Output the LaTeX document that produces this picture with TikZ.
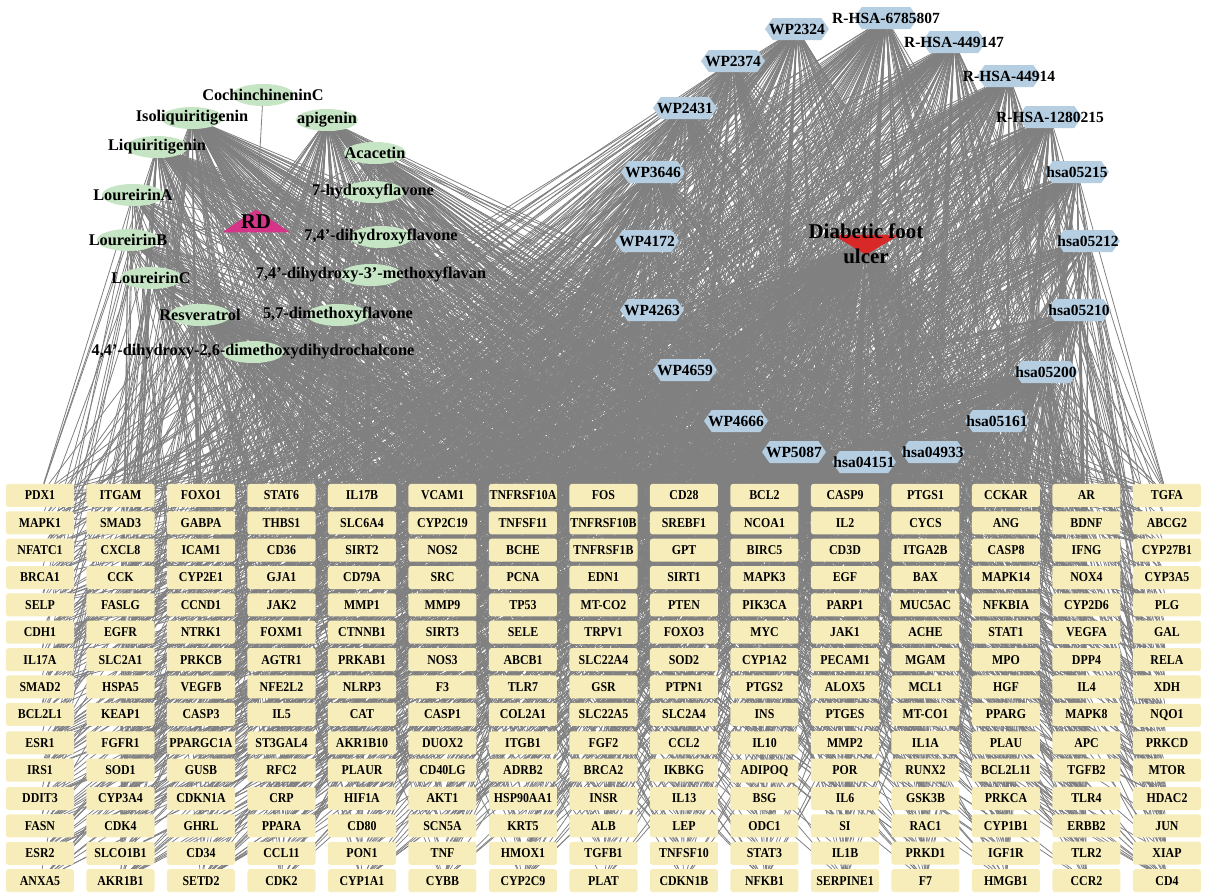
\documentclass[tikz,border=0pt]{standalone}
\usepackage{fontspec}
\setmainfont{Liberation Serif}
\newfontfamily\genefont{Liberation Serif}[FakeStretch=0.88]
\usetikzlibrary{matrix,shapes.geometric,shapes.symbols}

\definecolor{genefill}{RGB}{247,237,186}
\definecolor{compfill}{RGB}{198,229,196}
\definecolor{pathfill}{RGB}{181,206,226}
\definecolor{rdpink}{RGB}{214,52,136}
\definecolor{dfured}{RGB}{216,40,40}
\definecolor{linkgray}{RGB}{128,128,128}

\pgfdeclarelayer{background}
\pgfsetlayers{background,main}

\tikzset{
	link/.style={draw=linkgray, line width=0.8pt},
	gene/.style={rectangle, rounded corners=2.5pt, fill=genefill, minimum height=23pt, text width=68pt, align=center, inner xsep=0pt, inner ysep=0pt, font=\genefont\fontsize{13.5}{15}\selectfont\bfseries},
	comptext/.style={font=\fontsize{16.3}{18}\selectfont\bfseries},
	compound/.style={ellipse, fill=compfill, minimum width=62pt, minimum height=22pt, inner sep=0pt, label={[comptext]center:#1}},
	pathtext/.style={font=\fontsize{15.5}{17}\selectfont\bfseries},
	pathway/.style={signal, signal to=east and west, signal pointer angle=110, fill=pathfill, minimum width=64pt, minimum height=22pt, inner sep=0pt, label={[pathtext]center:#1}},
	bigtext/.style={font=\fontsize{21}{25}\selectfont\bfseries, align=center},
	rdmark/.style={isosceles triangle, isosceles triangle stretches, shape border rotate=90, fill=rdpink, minimum width=68pt, minimum height=23pt, inner sep=0pt, label={[bigtext]center:RD}},
	dfumark/.style={isosceles triangle, isosceles triangle stretches, shape border rotate=270, fill=dfured, minimum width=67pt, minimum height=20pt, inner sep=0pt, label={[bigtext]center:{Diabetic foot\\ulcer}}}
}

\begin{document}
\begin{tikzpicture}[x=1pt,y=-1pt]
	\useasboundingbox (0,0) rectangle (1205,892);

	\matrix[
		matrix of nodes,
		inner sep=0pt,
		row sep=4.3pt,
		column sep=12.5pt,
		nodes={gene}
	] (m) at (603.5,688)
	{
		PDX1 & ITGAM & FOXO1 & STAT6 & IL17B & VCAM1 & TNFRSF10A & FOS & CD28 & BCL2 & CASP9 & PTGS1 & CCKAR & AR & TGFA \\
		MAPK1 & SMAD3 & GABPA & THBS1 & SLC6A4 & CYP2C19 & TNFSF11 & TNFRSF10B & SREBF1 & NCOA1 & IL2 & CYCS & ANG & BDNF & ABCG2 \\
		NFATC1 & CXCL8 & ICAM1 & CD36 & SIRT2 & NOS2 & BCHE & TNFRSF1B & GPT & BIRC5 & CD3D & ITGA2B & CASP8 & IFNG & CYP27B1 \\
		BRCA1 & CCK & CYP2E1 & GJA1 & CD79A & SRC & PCNA & EDN1 & SIRT1 & MAPK3 & EGF & BAX & MAPK14 & NOX4 & CYP3A5 \\
		SELP & FASLG & CCND1 & JAK2 & MMP1 & MMP9 & TP53 & MT-CO2 & PTEN & PIK3CA & PARP1 & MUC5AC & NFKBIA & CYP2D6 & PLG \\
		CDH1 & EGFR & NTRK1 & FOXM1 & CTNNB1 & SIRT3 & SELE & TRPV1 & FOXO3 & MYC & JAK1 & ACHE & STAT1 & VEGFA & GAL \\
		IL17A & SLC2A1 & PRKCB & AGTR1 & PRKAB1 & NOS3 & ABCB1 & SLC22A4 & SOD2 & CYP1A2 & PECAM1 & MGAM & MPO & DPP4 & RELA \\
		SMAD2 & HSPA5 & VEGFB & NFE2L2 & NLRP3 & F3 & TLR7 & GSR & PTPN1 & PTGS2 & ALOX5 & MCL1 & HGF & IL4 & XDH \\
		BCL2L1 & KEAP1 & CASP3 & IL5 & CAT & CASP1 & COL2A1 & SLC22A5 & SLC2A4 & INS & PTGES & MT-CO1 & PPARG & MAPK8 & NQO1 \\
		ESR1 & FGFR1 & PPARGC1A & ST3GAL4 & AKR1B10 & DUOX2 & ITGB1 & FGF2 & CCL2 & IL10 & MMP2 & IL1A & PLAU & APC & PRKCD \\
		IRS1 & SOD1 & GUSB & RFC2 & PLAUR & CD40LG & ADRB2 & BRCA2 & IKBKG & ADIPOQ & POR & RUNX2 & BCL2L11 & TGFB2 & MTOR \\
		DDIT3 & CYP3A4 & CDKN1A & CRP & HIF1A & AKT1 & HSP90AA1 & INSR & IL13 & BSG & IL6 & GSK3B & PRKCA & TLR4 & HDAC2 \\
		FASN & CDK4 & GHRL & PPARA & CD80 & SCN5A & KRT5 & ALB & LEP & ODC1 & SI & RAC1 & CYP1B1 & ERBB2 & JUN \\
		ESR2 & SLCO1B1 & CD34 & CCL11 & PON1 & TNF & HMOX1 & TGFB1 & TNFSF10 & STAT3 & IL1B & PRKD1 & IGF1R & TLR2 & XIAP \\
		ANXA5 & AKR1B1 & SETD2 & CDK2 & CYP1A1 & CYBB & CYP2C9 & PLAT & CDKN1B & NFKB1 & SERPINE1 & F7 & HMGB1 & CCR2 & CD4 \\
	};

	\node[rdmark] (rd) at (256,222) {};

	\node[compound=CochinchineninC] (coch) at (263,95) {};
	\node[compound=Isoliquiritigenin] (isoliq) at (192,118) {};
	\node[compound=apigenin] (apig) at (327,120) {};
	\node[compound=Liquiritigenin] (liq) at (157,147) {};
	\node[compound=Acacetin] (acac) at (375,153) {};
	\node[compound=LoureirinA] (lourA) at (133,195) {};
	\node[compound=7-hydroxyflavone] (hydfl) at (373,192) {};
	\node[compound=LoureirinB] (lourB) at (128,240) {};
	\node[compound={7,4'-dihydroxyflavone}] (dihydfl) at (381,237) {};
	\node[compound=LoureirinC] (lourC) at (151,278) {};
	\node[compound={7,4'-dihydroxy-3'-methoxyflavan}] (methfl) at (371,275) {};
	\node[compound=Resveratrol] (resv) at (200,315) {};
	\node[compound={5,7-dimethoxyflavone}] (dimfl) at (338,315) {};
	\node[compound={4,4'-dihydroxy-2,6-dimethoxydihydrochalcone}] (chalc) at (253,352) {};

	\node[pathway=WP2324] (wp2324) at (797,29) {};
	\node[pathway=R-HSA-6785807] (rhsa6785807) at (886,18) {};
	\node[pathway=R-HSA-449147] (rhsa449147) at (954,42) {};
	\node[pathway=R-HSA-44914] (rhsa44914) at (1009,76) {};
	\node[pathway=R-HSA-1280215] (rhsa1280215) at (1050,117) {};
	\node[pathway=hsa05215] (hsa05215) at (1077,172) {};
	\node[pathway=hsa05212] (hsa05212) at (1088,241) {};
	\node[pathway=hsa05210] (hsa05210) at (1079,310) {};
	\node[pathway=hsa05200] (hsa05200) at (1046,372) {};
	\node[pathway=hsa05161] (hsa05161) at (997,421) {};
	\node[pathway=hsa04933] (hsa04933) at (933,452) {};
	\node[pathway=hsa04151] (hsa04151) at (864,462) {};
	\node[pathway=WP5087] (wp5087) at (794,452) {};
	\node[pathway=WP4666] (wp4666) at (736,421) {};
	\node[pathway=WP4659] (wp4659) at (685,370) {};
	\node[pathway=WP4263] (wp4263) at (652,310) {};
	\node[pathway=WP4172] (wp4172) at (647,241) {};
	\node[pathway=WP3646] (wp3646) at (653,172) {};
	\node[pathway=WP2431] (wp2431) at (685,108) {};
	\node[pathway=WP2374] (wp2374) at (733,61) {};

	\node[dfumark] (dfu) at (866,244) {};

	\begin{pgfonlayer}{background}
		\pgfmathsetseed{2718}
		\foreach \cp in {coch,isoliq,apig,liq,acac,lourA,hydfl,lourB,dihydfl,lourC,methfl,resv,dimfl,chalc}
			\draw[link] (rd) -- (\cp);
		\foreach \r in {1,...,15}
			\foreach \c in {1,...,15}
				\draw[link] (dfu) -- (m-\r-\c);
		\foreach \src/\deg in {isoliq/50,apig/55,liq/45,acac/25,lourA/18,hydfl/20,lourB/18,dihydfl/20,lourC/18,methfl/12,resv/40,dimfl/12,chalc/12,
				wp2324/45,rhsa6785807/50,rhsa449147/50,rhsa44914/50,rhsa1280215/50,hsa05215/40,hsa05212/35,hsa05210/35,hsa05200/60,hsa05161/40,
				hsa04933/40,hsa04151/50,wp5087/35,wp4666/35,wp4659/35,wp4263/35,wp4172/35,wp3646/35,wp2431/40,wp2374/40} {
			\foreach \r in {1,...,15} {
				\foreach \c in {1,...,15} {
					\pgfmathrandominteger{\pick}{1}{100}
					\ifnum\pick<\deg\relax \draw[link] (\src) -- (m-\r-\c);\fi
				}
			}
		}
	\end{pgfonlayer}
\end{tikzpicture}
\end{document}
